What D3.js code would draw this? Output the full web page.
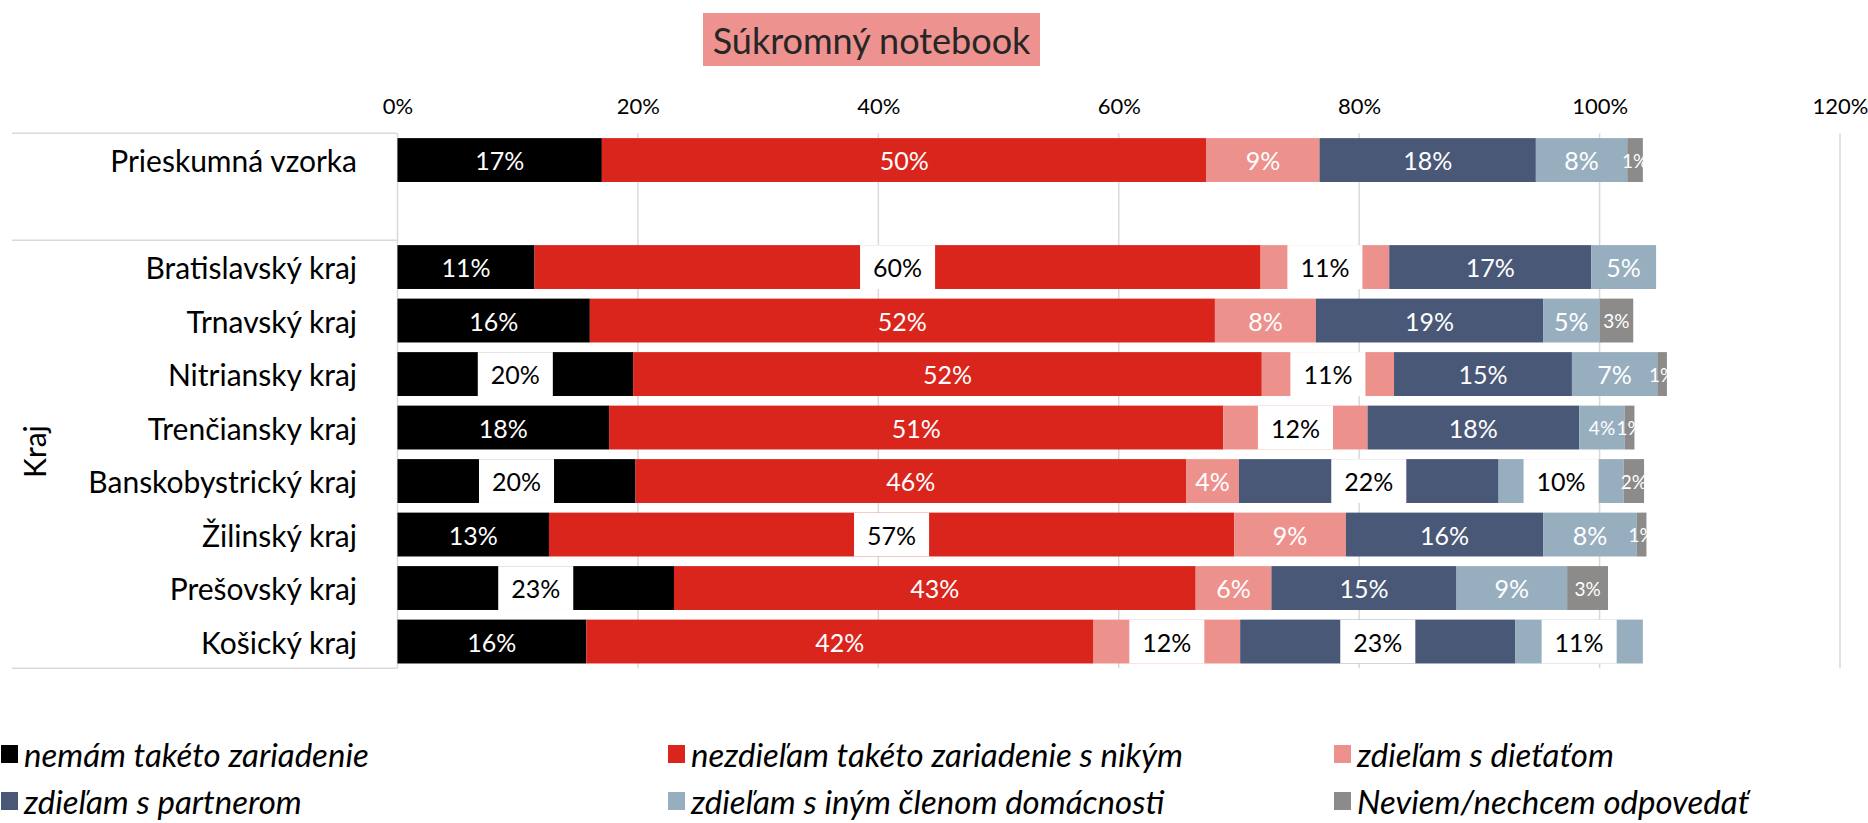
<!DOCTYPE html>
<html>
<head>
<meta charset="utf-8">
<script src="https://cdn.jsdelivr.net/npm/d3@7/dist/d3.min.js"></script>
<style>
  body { margin: 0; background: #ffffff; }
  svg { display: block; }
  text { font-family: Lato, "Open Sans", "Noto Sans", sans-serif; }
</style>
</head>
<body>
<svg id="chart" width="1868" height="823"></svg>
<script>
// ---------------- data ----------------
const chartTitle = "Súkromný notebook";
const axisTitle = "Kraj";
const categories = [
  "Prieskumná vzorka",
  "Bratislavský kraj",
  "Trnavský kraj",
  "Nitriansky kraj",
  "Trenčiansky kraj",
  "Banskobystrický kraj",
  "Žilinský kraj",
  "Prešovský kraj",
  "Košický kraj"
];
const seriesNames = [
  "nemám takéto zariadenie",
  "nezdieľam takéto zariadenie s nikým",
  "zdieľam s dieťaťom",
  "zdieľam s partnerom",
  "zdieľam s iným členom domácnosti",
  "Neviem/nechcem odpovedať"
];
// values in percent, one per category (same order as categories)
const nemam      = [17.0, 11.4, 16.0, 19.6, 17.6, 19.8, 12.6, 23.0, 15.7];
const nezdielam  = [50.3, 60.4, 52.0, 52.3, 51.1, 45.8, 57.0, 43.4, 42.2];
const dietatom   = [ 9.4, 10.7,  8.4, 11.0, 12.0,  4.4,  9.3,  6.3, 12.2];
const partnerom  = [18.0, 16.8, 18.9, 14.8, 17.6, 21.6, 16.4, 15.4, 22.9];
const inym       = [ 7.6,  5.4,  4.7,  7.1,  3.8, 10.4,  7.8,  9.2, 10.6];
const neviem     = [ 1.3,  0.0,  2.8,  0.8,  0.8,  1.7,  0.8,  3.4,  0.0];
const tickValues = [0, 20, 40, 60, 80, 100, 120];
// data labels shown on a white label box (category, series index)
const boxedLabels = [
  ["Bratislavský kraj", 1], ["Bratislavský kraj", 2],
  ["Nitriansky kraj", 0], ["Nitriansky kraj", 2],
  ["Trenčiansky kraj", 2],
  ["Banskobystrický kraj", 0], ["Banskobystrický kraj", 3], ["Banskobystrický kraj", 4],
  ["Žilinský kraj", 1],
  ["Prešovský kraj", 0],
  ["Košický kraj", 2], ["Košický kraj", 3], ["Košický kraj", 4]
];

// ---------------- styles ----------------
const colors = ["#000000", "#DA251D", "#ED918D", "#4A5878", "#97AEBF", "#8C8B89"];
const gridColor = "#D9D9D9";

const seriesValues = [nemam, nezdielam, dietatom, partnerom, inym, neviem];
const keys = seriesNames.map((_, i) => "s" + i);
const rows = categories.map((c, ci) => {
  const r = { cat: c };
  keys.forEach((k, si) => r[k] = seriesValues[si][ci]);
  return r;
});
const GAP = "__gap__";
const yDomain = [categories[0], GAP, ...categories.slice(1)];

const svg = d3.select("#chart");
const plotLeft = 397.5, plotRight = 1840, plotTop = 133.3, plotBottom = 668.3;

const x = d3.scaleLinear().domain([0, 120]).range([plotLeft, plotRight]);
const y = d3.scaleBand().domain(yDomain).range([plotTop, plotBottom])
  .paddingInner(0.18).paddingOuter(0.09);

// ----- title -----
const titleG = svg.append("g");
titleG.append("rect").attr("x", 703).attr("y", 13).attr("width", 337).attr("height", 53)
  .attr("fill", "#ED928F");
titleG.append("text").attr("x", 871.5).attr("y", 40)
  .attr("text-anchor", "middle").attr("dominant-baseline", "central")
  .attr("font-size", 36).attr("fill", "#262626").text(chartTitle);

// ----- gridlines -----
svg.append("g").selectAll("line").data(tickValues).join("line")
  .attr("x1", d => x(d)).attr("x2", d => x(d))
  .attr("y1", plotTop).attr("y2", plotBottom)
  .attr("stroke", gridColor).attr("stroke-width", 1.5);

// ----- top axis labels -----
const axisG = svg.append("g").attr("transform", `translate(0,${plotTop - 19})`)
  .call(d3.axisTop(x).tickValues(tickValues).tickSize(0).tickPadding(0).tickFormat(d => d + "%"));
axisG.select(".domain").remove();
axisG.selectAll("text").attr("font-size", 22).attr("fill", "#000")
  .attr("font-family", "Lato, 'Open Sans', sans-serif")
  .attr("dy", null).attr("dominant-baseline", "auto");

// ----- category table lines -----
const half = (y.step() - y.bandwidth()) / 2;
const sepY = [plotTop, y(categories[1]) - half, plotBottom];
svg.append("g").selectAll("line").data(sepY).join("line")
  .attr("x1", 12).attr("x2", plotLeft).attr("y1", d => d).attr("y2", d => d)
  .attr("stroke", gridColor).attr("stroke-width", 1.5);

// ----- category labels -----
svg.append("g").selectAll("text").data(categories).join("text")
  .attr("x", 357).attr("y", d => y(d) + y.bandwidth() / 2)
  .attr("text-anchor", "end").attr("dominant-baseline", "central")
  .attr("font-size", 30).attr("fill", "#000").text(d => d);

svg.append("text")
  .attr("transform", `translate(34,${y(categories[4]) + y.bandwidth() / 2 + 24}) rotate(-90)`)
  .attr("text-anchor", "middle").attr("dominant-baseline", "central")
  .attr("font-size", 30).attr("fill", "#000").text(axisTitle);

// ----- bars -----
const stacked = d3.stack().keys(keys)(rows);
const barsG = svg.append("g");
stacked.forEach((layer, si) => {
  barsG.selectAll(null).data(layer.filter(d => d[1] - d[0] > 0)).join("rect")
    .attr("x", d => x(d[0]))
    .attr("y", d => y(d.data.cat))
    .attr("width", d => x(d[1]) - x(d[0]))
    .attr("height", y.bandwidth())
    .attr("fill", colors[si]);
});

// ----- data labels -----
const isBoxed = (cat, si) => boxedLabels.some(b => b[0] === cat && b[1] === si);
const labelsG = svg.append("g");
stacked.forEach((layer, si) => {
  layer.forEach(d => {
    const v = d[1] - d[0];
    if (v <= 0) return;
    const cx = (x(d[0]) + x(d[1])) / 2;
    const cy = y(d.data.cat) + y.bandwidth() / 2;
    const w = x(d[1]) - x(d[0]);
    const boxed = isBoxed(d.data.cat, si);
    const fs = (!boxed && w < 50) ? 19 : 25;
    const g = labelsG.append("g");
    const t = g.append("text").attr("x", cx).attr("y", cy)
      .attr("text-anchor", "middle").attr("dominant-baseline", "central")
      .attr("font-size", fs).attr("fill", boxed ? "#000" : "#fff")
      .text(Math.round(v) + "%");
    if (boxed) {
      const bw = t.node().getComputedTextLength() + 26;
      g.insert("rect", "text").attr("x", cx - bw / 2).attr("y", y(d.data.cat))
        .attr("width", bw).attr("height", y.bandwidth()).attr("fill", "#fff");
    }
  });
});

// ----- legend -----
const legendCols = [1, 668, 1334];
const legendRows = [754, 801];
const legG = svg.append("g");
seriesNames.forEach((name, i) => {
  const lx = legendCols[i % 3], ly = legendRows[Math.floor(i / 3)];
  legG.append("rect").attr("x", lx).attr("y", ly - 9).attr("width", 17).attr("height", 18)
    .attr("fill", colors[i]);
  legG.append("text").attr("x", lx + 23).attr("y", ly)
    .attr("dominant-baseline", "central").attr("font-style", "italic")
    .attr("font-size", 33).attr("fill", "#000").text(name);
});
</script>
</body>
</html>
